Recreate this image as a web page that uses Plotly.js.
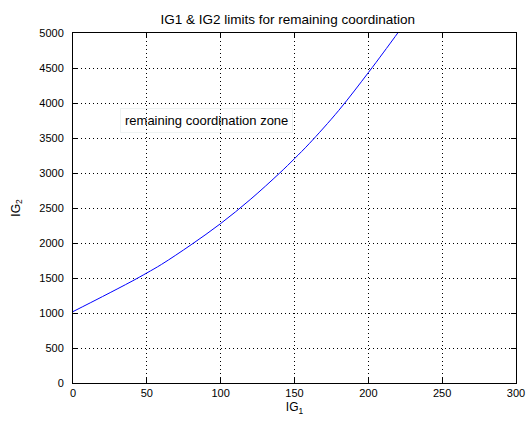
<!DOCTYPE html>
<html>
<head>
<meta charset="utf-8">
<script src="https://cdn.plot.ly/plotly-3.0.1.min.js"></script>
<style>html,body{margin:0;padding:0;background:#fff;}#chart{width:528px;height:421px;}</style>
</head>
<body>
<div id="chart"></div>
<script>
const ig1 = [0, 20, 40, 50, 60, 80, 100, 120, 140, 150, 160, 180, 200, 210, 222];
const ig2 = [1020, 1235, 1455, 1572, 1695, 1975, 2278, 2620, 3000, 3205, 3420, 3895, 4434, 4715, 5060];
const xTicks = [0, 50, 100, 150, 200, 250, 300];
const yTicks = [0, 500, 1000, 1500, 2000, 2500, 3000, 3500, 4000, 4500, 5000];
const titleText = 'IG1 & IG2 limits for remaining coordination';
const zoneLabel = 'remaining coordination zone';

const fontFam = '"Liberation Sans", Arial, sans-serif';
const axisCommon = {
  showline: true, mirror: 'ticks', linecolor: '#000', linewidth: 1,
  ticks: 'inside', ticklen: 5, tickcolor: '#000',
  showgrid: true, gridcolor: '#000', gridwidth: 1, griddash: '1px,3px',
  zeroline: false, tickfont: {family: fontFam, size: 11, color: '#000'}
};

Plotly.newPlot('chart', [{
  x: ig1, y: ig2, type: 'scatter', mode: 'lines',
  line: {color: '#0000ff', width: 1, shape: 'spline', smoothing: 1}
}], {
  width: 528, height: 421,
  margin: {l: 73, r: 12, t: 33, b: 38},
  paper_bgcolor: '#fff', plot_bgcolor: '#fff',
  showlegend: false,
  title: {text: titleText, font: {family: fontFam, size: 13.5, color: '#000'}, x: 0.545, xanchor: 'center', y: 0.955, yanchor: 'middle'},
  xaxis: Object.assign({}, axisCommon, {
    range: [0, 300], tickvals: xTicks,
    title: {text: 'IG<sub>1</sub>', font: {family: fontFam, size: 12, color: '#000'}, standoff: 4}
  }),
  yaxis: Object.assign({}, axisCommon, {
    range: [0, 5000], tickvals: yTicks, ticklabelstandoff: 6,
    title: {text: 'IG<sub>2</sub>', font: {family: fontFam, size: 12, color: '#000'}, standoff: 16}
  }),
  annotations: [{
    x: 90.6, y: 3750, xref: 'x', yref: 'y', text: zoneLabel, showarrow: false,
    font: {family: fontFam, size: 13, color: '#000'},
    bordercolor: '#eef3f3', borderwidth: 1, borderpad: 4
  }]
}, {displayModeBar: false, staticPlot: true});
</script>
</body>
</html>
